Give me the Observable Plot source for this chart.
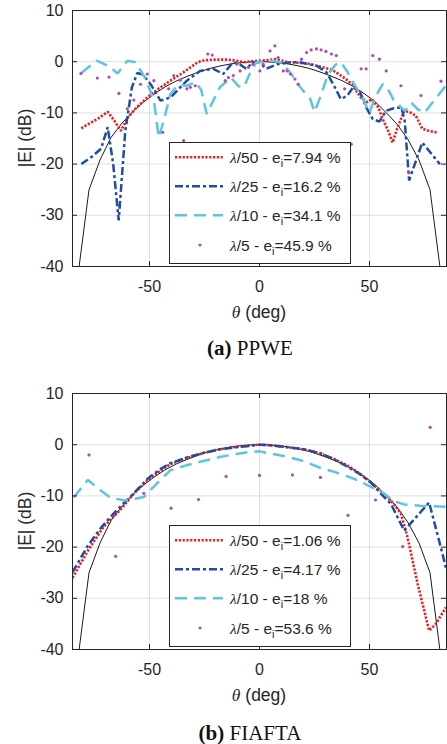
<!DOCTYPE html>
<html><head><meta charset="utf-8">
<script src="https://cdn.jsdelivr.net/npm/d3@7"></script>
<script src="https://cdn.jsdelivr.net/npm/@observablehq/plot@0.6"></script>
<style>
body{margin:0;background:#fff;}
#root{position:relative;width:447px;height:744px;overflow:hidden;font-family:"Liberation Sans",Arial,sans-serif;color:#262626;}
.abs{position:absolute;}
.xlab{width:200px;text-align:center;font-size:17.5px;line-height:20px;white-space:nowrap;}
.ylab{font-size:17.5px;line-height:20px;white-space:nowrap;transform:translate(-50%,-50%) rotate(-90deg);}
.cap{left:0;width:500px;text-align:center;font-family:"Liberation Serif","Times New Roman",serif;font-size:21px;line-height:24px;color:#111;}
.th{font-family:"Liberation Serif",serif;font-style:italic;}
</style></head><body><div id="root"></div>
<script>
// ---------- shared ----------
const xTicks = [-50, 0, 50];
const yTicks = [10, 0, -10, -20, -30, -40];
const refTheta = [-82.5,-77.5,-72.5,-67.5,-62.5,-57.5,-52.5,-47.5,-42.5,-37.5,-32.5,-27.5,-22.5,-17.5,-12.5,-7.5,-2.5,2.5,7.5,12.5,17.5,22.5,27.5,32.5,37.5,42.5,47.5,52.5,57.5,62.5,67.5,72.5,77.5,82.5];
const refDb = [-41.7,-25,-19.2,-14.8,-12,-9.7,-7.8,-6.2,-4.8,-3.7,-2.8,-2.0,-1.3,-0.8,-0.4,-0.15,0,0,-0.15,-0.4,-0.8,-1.3,-2.0,-2.8,-3.7,-4.8,-6.2,-7.8,-9.9,-12.2,-15.2,-19.2,-25,-41.7];

// ---------- (a) PPWE ----------
const aL50Theta = [-81,-77,-73,-69,-66,-63,-60,-56,-51,-46,-40.5,-35,-31,-28,-25,-20,-15,-12,-7,-3,0,4,7,13,18,22,28,33,36,39,42,46,49,51,54,56,58.5,60.5,62.8,65.8,68,71,74,77,80.5];
const aL50Db = [-13,-12,-11,-9.8,-11.5,-13.5,-11,-9,-7,-5.3,-3.7,-2.2,-1,-0.1,0.3,0.4,0.4,0.3,-0.1,0.1,0.2,0.3,0.5,-0.1,-0.2,-0.4,-1,-1.6,-2.4,-3.3,-4.4,-7,-7.9,-7.3,-8.9,-11.2,-13.5,-15.8,-12.8,-9.6,-9.8,-10.5,-13.1,-13.5,-13.8];
const aL25Theta = [-81,-76,-72,-69,-66.5,-64,-61,-58,-55.5,-53,-49.5,-45,-40.5,-36,-33,-27,-21,-16.5,-12,-9,-6,-3,0,3,8,14,18,26,30.5,33.5,37,40,42.5,45.5,48.5,51.5,54.5,57.5,61,64.5,66,68,74,82];
const aL25Db = [-20,-18.5,-17,-12.8,-20,-31,-13.5,-5,-2.2,-2.5,-4.4,-7.6,-7.0,-5.0,-3.7,-1.8,-1.4,-2.4,-0.1,-0.5,-1.4,-0.1,-0.1,-1.4,-0.5,-0.1,-0.1,-0.8,-2.1,-4.4,-7.3,-6.6,-5.0,-5.7,-8.9,-11.2,-11.7,-9.6,-9.1,-8.9,-11.5,-23.2,-15.8,-20];
const aL10Theta = [-81,-74,-68,-64.5,-60,-56.5,-52,-48,-45.8,-43.5,-40.5,-37,-33,-29,-26.5,-24,-21,-18,-13,-9.5,-7,-4.5,-1.5,1.5,4,10,14.5,17.5,20.5,23,25,28,31,34.5,37,40,43,47.5,50,52.5,56,58,61,63,66,69,72,75,78,81,85];
const aL10Db = [-2.2,0.2,-1.0,-2.3,0.2,-0.1,-3.1,-7.5,-14.8,-11.5,-6.3,-4.5,-4.7,-4.0,-5.5,-10.2,-7.6,-5,-3.1,-4.8,-4.9,-2.4,-0.1,0,0.2,-0.1,-2.4,-4.4,-6,-7.2,-9.8,-6.5,-2.6,-0.6,-0.1,-2.0,-4.4,-7.6,-10.0,-7.0,-4.4,-5,-7.5,-8.3,-9.6,-8.0,-9.3,-10.0,-8.3,-6.7,-4.5];
const aL5Theta = [-81.2,-73.7,-68.4,-63.9,-60.1,-57.1,-54.1,-51,-48,-44,-41.3,-39,-36,-34.5,-33,-31.4,-29.2,-23.5,-21.5,-15.6,-14.1,-11.9,-10.3,-8.8,-5,-3,0.2,1.7,4.8,7,8.5,10.8,12.5,14,16.1,17.6,19.1,21.4,23.5,25.9,28,30.2,32.7,34.9,38.7,41.7,46.2,48.5,51.5,54.5,57.6,64.3,68,73.4,82.5];
const aL5Db = [-2.3,-3.2,-3.0,-6.2,-9.2,-7.5,-4.4,-2.4,-3.7,-13.8,-5.3,-2.7,-3.6,-15.4,-5.3,-5.0,-4.7,1.5,1.3,-3.7,-3.1,-2.7,-0.5,-1.8,-1.1,-0.5,-1.8,-0.5,2.1,3.1,0.8,-1.8,-1.8,-2.4,-3.4,-4.4,0.5,1.8,2.3,2.5,2.3,2.0,1.5,1.2,-5.3,-16.1,-1.4,-1.4,1.2,0.5,-1.8,-4.7,-21.7,-6.6,-3.8];
const aLegend = ["7.94 %", "16.2 %", "34.1 %", "45.9 %"];

// ---------- (b) FIAFTA ----------
const bL50Theta = [-85,-78,-71,-63,-57,-51,-45.5,-40.5,-33,-25.5,-18,-10.5,-4,0,5,13,20,28,34,40,45.5,50.7,54.5,58.3,61.5,64.3,67.3,71.9,77.1,80.2,84.7];
const bL50Db = [-26,-20.7,-16.1,-12.6,-9.5,-7.0,-5.2,-3.8,-2.6,-1.6,-0.9,-0.4,-0.1,0,-0.1,-0.5,-0.9,-1.8,-2.8,-4.1,-5.6,-7.4,-8.9,-10.3,-11.8,-13.5,-18.1,-27.2,-36.3,-35,-31.8];
const bL25Theta = [-85,-78,-72,-66,-58.5,-51,-45.5,-40.5,-33,-25.5,-18,-10.5,-4,0,5,13,20,28,34,40,45.5,50.7,55,59.8,65.8,71.5,77.1,82.4,84.7];
const bL25Db = [-24.9,-19.7,-16.2,-13.3,-10.1,-6.7,-4.9,-3.6,-2.5,-1.6,-0.9,-0.5,-0.2,0,-0.1,-0.5,-0.9,-1.7,-2.9,-4.3,-5.7,-7.4,-9.5,-11.6,-16.8,-14,-11.3,-20,-24];
const bL10Theta = [-84.5,-78,-72,-67.5,-61,-56,-52.5,-46.5,-40.5,-33,-25.5,-18,-10.5,-4,0,6,13,20,27.5,34,40,45,49.5,55.5,61,66,73,84.7];
const bL10Db = [-10.3,-6.9,-9,-10.4,-10.9,-10.5,-10.2,-7.5,-5.0,-4.0,-3.2,-2.4,-1.8,-1.4,-1.3,-1.8,-2.4,-3.2,-4.5,-5.3,-6.2,-7.0,-8.0,-9.2,-11,-11.7,-11.9,-12.1];
const bL5Theta = [-77.5,-65.4,-52.6,-40.2,-27.7,-15.2,0,15,27.7,40.2,52.7,65.1,77.6];
const bL5Db = [-2,-21.8,-9.5,-12.4,-10.7,-6.2,-6.0,-5.9,-6.4,-13.8,-10.8,-19.9,3.4];
const bLegend = ["1.06 %", "4.17 %", "18 %", "53.6 %"];

// ---------- styles ----------
const RED = "#f21a1f", BLUE = "#1d4ea6", CYAN = "#5cc5df", MAG = "#b848ab", AX = "#262626";
const redStyle = {stroke: RED, strokeWidth: 2.6, strokeDasharray: "2.2,1.6"};
const blueStyle = {stroke: BLUE, strokeWidth: 2.5, strokeDasharray: "8,3,3,3"};
const cyanStyle = {stroke: CYAN, strokeWidth: 2.5, strokeDasharray: "12,7"};
const zipPts = (t, v) => t.map((d, i) => ({theta: d, db: v[i]}));
const W = 447, ML = 72, MR = 1, MT = 10, PH = 256;

function chart(s, mb) {
  const pw = W - ML - MR;
  const ln = {x: "theta", y: "db", strokeLinecap: "butt", strokeLinejoin: "miter", clip: true};
  return Plot.plot({
    width: W, height: MT + PH + mb,
    marginLeft: ML, marginRight: MR, marginTop: MT, marginBottom: mb,
    x: {domain: [-85, 85]},
    y: {domain: [-40, 10]},
    style: {fontFamily: "'Liberation Sans', Arial, sans-serif", fontSize: "16px", color: AX, background: "white", overflow: "visible"},
    marks: [
      Plot.gridX(xTicks, {stroke: "#000", strokeOpacity: 0.12}),
      Plot.gridY(yTicks, {stroke: "#000", strokeOpacity: 0.12}),
      Plot.line(zipPts(refTheta, refDb), {x: "theta", y: "db", stroke: "#000", strokeWidth: 0.9, clip: true}),
      Plot.line(zipPts(s.l50t, s.l50d), {...ln, ...redStyle}),
      Plot.line(zipPts(s.l25t, s.l25d), {...ln, ...blueStyle}),
      Plot.line(zipPts(s.l10t, s.l10d), {...ln, ...cyanStyle}),
      Plot.dot(zipPts(s.l5t, s.l5d), {x: "theta", y: "db", r: 1.6, fill: MAG, stroke: null, clip: true}),
      Plot.frame({stroke: AX, strokeWidth: 1}),
      Plot.tickX(xTicks, {x: d => d, insetTop: PH - 5, stroke: AX}),
      Plot.tickX(xTicks, {x: d => d, insetBottom: PH - 5, stroke: AX}),
      Plot.tickY(yTicks, {y: d => d, insetRight: pw - 5, stroke: AX}),
      Plot.tickY(yTicks, {y: d => d, insetLeft: pw - 5, stroke: AX}),
      Plot.axisX(xTicks, {anchor: "bottom", tickSize: 0, tickPadding: 14, label: null, tickFormat: d => String(d)}),
      Plot.axisY(yTicks, {anchor: "left", tickSize: 0, tickPadding: 9, label: null, tickFormat: d => String(d)})
    ]
  });
}

function legendSvg(labels) {
  const ns = "http://www.w3.org/2000/svg";
  const svg = document.createElementNS(ns, "svg");
  svg.setAttribute("width", 183); svg.setAttribute("height", 123);
  const names = ["/50 - e", "/25 - e", "/10 - e", "/5 - e"];
  const rows = [15.3, 44.3, 73.3, 103];
  let html = `<rect x="0.5" y="0.5" width="181" height="121" fill="white" stroke="${AX}" stroke-width="1"/>`;
  const st = [redStyle, blueStyle, cyanStyle];
  rows.forEach((ry, i) => {
    if (i < 3) html += `<line x1="6" x2="54" y1="${ry}" y2="${ry}" stroke="${st[i].stroke}" stroke-width="${st[i].strokeWidth}" stroke-dasharray="${st[i].strokeDasharray}" stroke-linecap="butt"/>`;
    else html += `<circle cx="31" cy="${ry}" r="1.6" fill="${MAG}"/>`;
    html += `<text x="61" y="${ry + 5.5}" font-family="'Liberation Sans', Arial, sans-serif" font-size="15.5" fill="${AX}"><tspan font-family="'Liberation Serif', serif" font-style="italic">λ</tspan>${names[i]}<tspan dy="4" font-size="11">i</tspan><tspan dy="-4">=${labels[i]}</tspan></text>`;
  });
  svg.innerHTML = html;
  return svg;
}

const root = document.getElementById("root");
function place(el, left, top) { el.classList.add("abs"); el.style.left = left + "px"; el.style.top = top + "px"; root.appendChild(el); return el; }
function div(cls, html) { const d = document.createElement("div"); d.className = cls; d.innerHTML = html; return d; }

// Chart (a)
const A = chart({l50t: aL50Theta, l50d: aL50Db, l25t: aL25Theta, l25d: aL25Db, l10t: aL10Theta, l10d: aL10Db, l5t: aL5Theta, l5d: aL5Db}, 64);
place(A, 0, 0);
place(legendSvg(aLegend), 169, 142);
place(div("xlab", '<span class="th">θ</span> (deg)'), 159, 302);
place(div("ylab", "|E| (dB)"), 25, 138);
place(div("cap", "<b>(a)</b> PPWE"), 0, 336);

// Chart (b)
const B = chart({l50t: bL50Theta, l50d: bL50Db, l25t: bL25Theta, l25d: bL25Db, l10t: bL10Theta, l10d: bL10Db, l5t: bL5Theta, l5d: bL5Db}, 64);
place(B, 0, 383);
place(legendSvg(bLegend), 169, 525);
place(div("xlab", '<span class="th">θ</span> (deg)'), 159, 685);
place(div("ylab", "|E| (dB)"), 25, 521);
place(div("cap", "<b>(b)</b> FIAFTA"), 0, 721);
</script>
</body></html>
